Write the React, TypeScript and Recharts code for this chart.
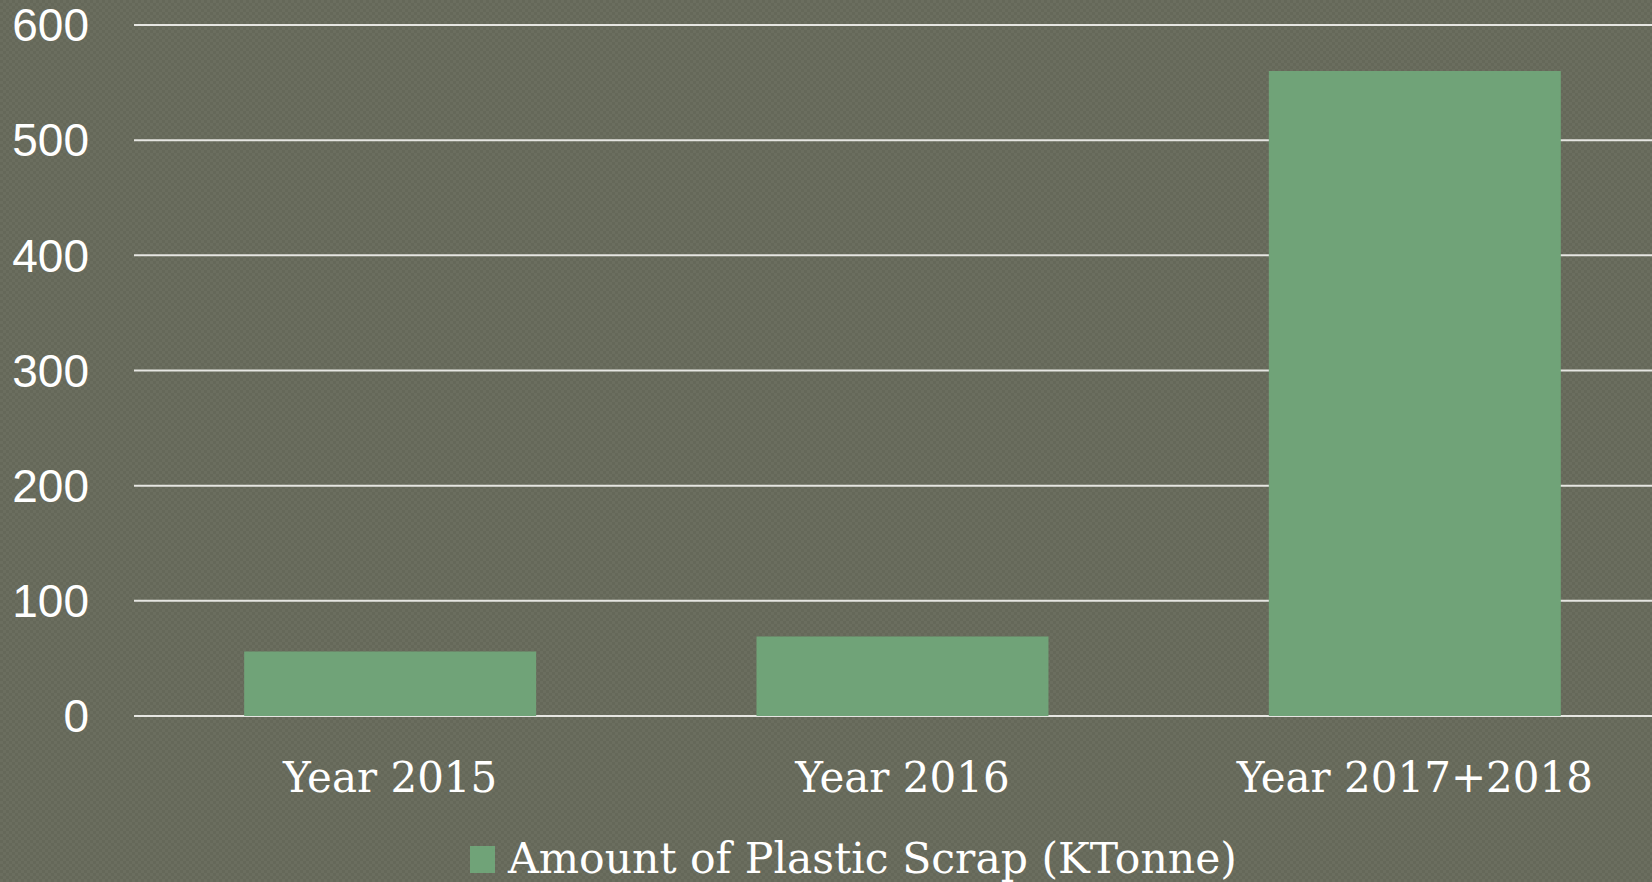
import React from "react";
import { BarChart, Bar, XAxis, YAxis, CartesianGrid, Legend } from "recharts";

const categories = ["Year 2015", "Year 2016", "Year 2017+2018"];
const plasticScrap = [56, 69, 560];
const yTicks = [0, 100, 200, 300, 400, 500, 600];
const seriesName = "Amount of Plastic Scrap (KTonne)";

const data = categories.map((c, i) => ({ name: c, value: plasticScrap[i] }));

const BG = "#676a5b";
const BAR = "#70a378";

const LegendContent = () => (
  <div
    style={{
      display: "flex",
      justifyContent: "center",
      alignItems: "center",
      paddingLeft: 36,
      fontFamily: "'DejaVu Serif', serif",
      fontSize: 42.5,
      color: "#ffffff",
      whiteSpace: "nowrap",
      lineHeight: "48px",
    }}
  >
    <span
      style={{
        display: "inline-block",
        width: 25,
        height: 27,
        background: BAR,
        marginRight: 13,
      }}
    />
    <span>{seriesName}</span>
  </div>
);

export default function App() {
  return (
    <div
      style={{
        position: "absolute",
        left: 0,
        top: 0,
        width: 1652,
        height: 882,
        backgroundColor: BG,
        backgroundImage:
          "repeating-conic-gradient(rgba(255,255,255,0.025) 0 25%, rgba(0,0,0,0.025) 0 50%)",
        backgroundSize: "6px 6px",
        overflow: "hidden",
      }}
    >
      <BarChart
        width={1671}
        height={882}
        data={data}
        margin={{ top: 25, right: 0, left: 0, bottom: 4 }}
        barCategoryGap="21.5%"
      >
        <CartesianGrid vertical={false} stroke="#e6e6e2" strokeWidth={2} />
        <XAxis
          dataKey="name"
          axisLine={false}
          tickLine={false}
          tickSize={0}
          tickMargin={46}
          height={119}
          interval={0}
          tick={{ fill: "#ffffff", fontSize: 42, fontFamily: "'DejaVu Serif', serif" }}
        />
        <YAxis
          domain={[0, 600]}
          ticks={yTicks}
          axisLine={false}
          tickLine={false}
          tickSize={0}
          tickMargin={45}
          width={134}
          interval={0}
          tick={{ fill: "#ffffff", fontSize: 46, fontFamily: "'Liberation Sans', Arial, sans-serif" }}
        />
        <Legend verticalAlign="bottom" height={43} content={<LegendContent />} />
        <Bar dataKey="value" name={seriesName} fill={BAR} isAnimationActive={false} />
      </BarChart>
    </div>
  );
}
